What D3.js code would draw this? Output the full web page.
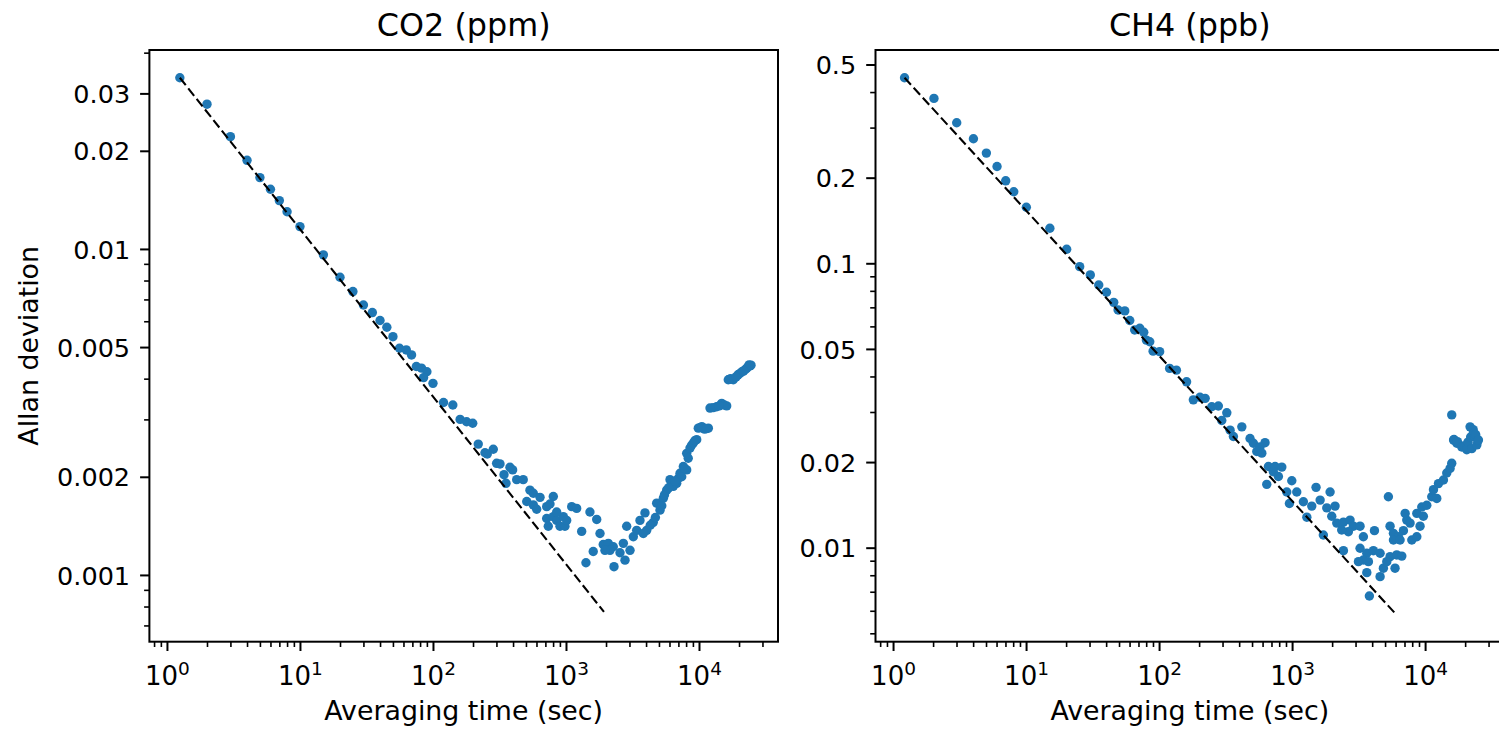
<!DOCTYPE html>
<html>
<head>
<meta charset="utf-8">
<script src="https://cdn.jsdelivr.net/npm/d3@7"></script>
<style>
body { margin: 0; background: #fff; }
svg { display: block; }
text { font-family: "DejaVu Sans", sans-serif; fill: #000; }
</style>
</head>
<body>
<svg id="chart" width="1499" height="729"></svg>
<script>
'use strict';

// CO2 Allan deviation (ppm) vs averaging time (s)
var co2Tau = [1.25, 2, 3, 4, 5, 6, 7, 8, 10, 15, 20, 25, 30, 35, 40, 45, 50, 56, 63, 69,
  75, 82, 90, 85, 100, 120, 141, 160, 179, 199, 219, 246, 284, 256, 301, 319, 379, 397, 342, 354,
  426, 477, 536, 568, 638, 507, 568, 602, 716, 803, 758, 716, 803, 851, 955, 901, 982, 736, 1012, 851,
  1104, 1203, 1312, 1514, 1702, 1802, 1413, 1603, 1906, 2080, 2268, 2142, 1963, 2296, 2547, 2699, 3030, 2778, 2860, 3208,
  3401, 3600, 3925, 4043, 4530, 3814, 4300, 4700, 4806, 5093, 5395, 5500, 5716, 6053, 6200, 6797, 6412, 7000, 7197, 7624,
  8080, 7413, 8080, 8556, 8800, 9064, 9610, 9880, 10200, 10770, 11000, 11750, 12100, 13580, 14820, 15500, 16150, 16600, 17300, 18110,
  19640, 20300, 21040, 22180, 22800, 23360, 23800, 24180,
  5250, 5900, 6600, 7800, 8300, 9300, 10500, 11400, 12800, 14200, 17000, 19000, 21600, 24600];
var co2Dev = [0.0335, 0.0278, 0.0221, 0.0187, 0.01655, 0.01524, 0.01407, 0.0130, 0.01171, 0.00959, 0.00819, 0.0074, 0.00673, 0.00638, 0.00603, 0.00575, 0.00538, 0.00496, 0.00490, 0.00473,
  0.00436, 0.00431, 0.00420, 0.00403, 0.00387, 0.00338, 0.00332, 0.00300, 0.00295, 0.00292, 0.00252, 0.00237, 0.00243, 0.00235, 0.00220, 0.00219, 0.00214, 0.00210, 0.00203, 0.00191,
  0.00196, 0.00196, 0.00182, 0.00178, 0.00173, 0.00168, 0.00164, 0.00159, 0.00162, 0.00174, 0.00165, 0.00149, 0.00151, 0.00147, 0.00151, 0.00141, 0.00141, 0.00141, 0.00147, 0.00156,
  0.00162, 0.00160, 0.00136, 0.00156, 0.00148, 0.00134, 0.00109, 0.00118, 0.00124, 0.00125, 0.00122, 0.00119, 0.00119, 0.00106, 0.00117, 0.00125, 0.00119, 0.00111, 0.00141, 0.00131,
  0.00137, 0.00147, 0.00155, 0.00137, 0.00145, 0.00134, 0.00142, 0.00150, 0.00166, 0.00158, 0.00172, 0.00176, 0.00182, 0.00196, 0.00190, 0.00191, 0.00187, 0.00198, 0.00205, 0.00215,
  0.00210, 0.00200, 0.00236, 0.00245, 0.00250, 0.00254, 0.00260, 0.00282, 0.00283, 0.00282, 0.00280, 0.00282, 0.00325, 0.00328, 0.00336, 0.00332, 0.00330, 0.00397, 0.00400, 0.00397,
  0.00411, 0.00415, 0.00420, 0.00426, 0.00430, 0.00435, 0.00441, 0.00438,
  0.00163, 0.00185, 0.00194, 0.00212, 0.00228, 0.00258, 0.00285, 0.00281, 0.00326, 0.00330, 0.00398, 0.00405, 0.00422, 0.00440];

// CH4 Allan deviation (ppb) vs averaging time (s)
var ch4Tau = [1.22, 2.03, 3.01, 4.02, 5.03, 6.05, 7.03, 8.08, 10.05, 15.1, 20.2, 25.3, 30.4, 35.2, 40.2, 45.6, 49.2, 55.2, 60.2, 65.6,
  71.6, 76.7, 80.3, 85.1, 90.2, 101, 120, 135, 161, 181, 203, 222, 249, 279, 323, 296, 342, 362, 419, 483,
  512, 574, 626, 543, 592, 664, 745, 837, 723, 789, 645, 995, 912, 1084, 955, 1216, 1406, 1291, 1514, 1931,
  1625, 1824, 2104, 1718, 1987, 2168, 2432, 2729, 2891, 3243, 2649, 2361, 3436, 2432, 3243, 3645, 4086, 4589, 3436, 3748,
  3154, 3645, 3811, 4589, 4857, 5453, 6124, 5944, 5152, 6680, 4161, 5297, 5453, 5781, 6300, 6870, 7282, 7711, 7079, 7943,
  8664, 9163, 5781, 6486, 8664, 9440, 9705, 10300, 11220, 12240, 11560, 12600, 13740, 14550, 15410, 15860, 15860, 16370, 16500, 17320,
  17500, 18870, 19500, 20570, 21000, 22000, 22440, 21790, 23000, 23070, 23770, 24000, 24500, 25180];
var ch4Dev = [0.449, 0.380, 0.312, 0.274, 0.244, 0.219, 0.195, 0.1785, 0.1574, 0.1328, 0.1120, 0.0973, 0.0910, 0.0839, 0.0791, 0.0729, 0.0685, 0.0680, 0.0629, 0.0583,
  0.0591, 0.0572, 0.0537, 0.0530, 0.0491, 0.0489, 0.0427, 0.0421, 0.0383, 0.0331, 0.0338, 0.0335, 0.0313, 0.0315, 0.0298, 0.0280, 0.0259, 0.0246, 0.0266, 0.0242,
  0.0233, 0.0226, 0.0234, 0.0218, 0.0215, 0.0193, 0.0193, 0.0192, 0.0185, 0.0178, 0.0167, 0.0172, 0.0157, 0.0157, 0.0143, 0.0145, 0.0140, 0.0128, 0.0163, 0.0157,
  0.0147, 0.0138, 0.0140, 0.01108, 0.0129, 0.0122, 0.0123, 0.0125, 0.0119, 0.0119, 0.01138, 0.01154, 0.01093, 0.00976, 0.00995, 0.00956, 0.00976, 0.00956, 0.00905, 0.00893,
  0.00893, 0.00817, 0.00676, 0.00791, 0.00847, 0.00930, 0.00943, 0.00847, 0.00893, 0.00934, 0.01148, 0.0151, 0.0119, 0.01123, 0.01093, 0.01148, 0.0125, 0.0122, 0.0132, 0.01064,
  0.01093, 0.0119, 0.01064, 0.01064, 0.0132, 0.0139, 0.0129, 0.0141, 0.0151, 0.0149, 0.0160, 0.0168, 0.0173, 0.0183, 0.0190, 0.0198, 0.0293, 0.0239, 0.0240, 0.0233,
  0.0236, 0.0226, 0.0228, 0.0221, 0.0235, 0.0245, 0.0223, 0.0266, 0.0260, 0.0252, 0.0244, 0.0250, 0.0230, 0.0239];

// tau^-1/2 reference lines
var co2FitTau = [1.25, 1930], co2FitDev = [0.0335, 0.00077];
var ch4FitTau = [1.22, 5944], ch4FitDev = [0.449, 0.00588];

var co2Ticks = [0.001, 0.002, 0.005, 0.01, 0.02, 0.03];
var ch4Ticks = [0.01, 0.02, 0.05, 0.1, 0.2, 0.5];
var xTicks = [1, 10, 100, 1000, 10000];
var xTickExp = ['0', '1', '2', '3', '4'];
var titles = ['CO2 (ppm)', 'CH4 (ppb)'];

var svg = d3.select('#chart');
var plotTop = 50, plotBottom = 641.7, plotW = 628.6;
var xDomain = [0.738, 39260];
var blue = '#1f77b4';

function minorTicks(domain, skip) {
	var out = [];
	var lo = Math.floor(Math.log10(domain[0])), hi = Math.ceil(Math.log10(domain[1]));
	for (var e = lo; e <= hi; e++) {
		for (var m = 1; m < 10; m++) {
			var v = m * Math.pow(10, e);
			if (v < domain[0] || v > domain[1]) continue;
			if (skip.some(function (t) { return Math.abs(t / v - 1) < 1e-6; })) continue;
			out.push(v);
		}
	}
	return out;
}

function cleanAxis(g) {
	g.attr('font-size', null).attr('font-family', null);
	g.select('.domain').remove();
	g.selectAll('line').attr('stroke', '#000');
}

function panel(left, yDomain, tau, dev, fitTau, fitDev, yTicks, title, withYLabel) {
	var x = d3.scaleLog().domain(xDomain).range([left, left + plotW]);
	var y = d3.scaleLog().domain(yDomain).range([plotBottom, plotTop]);
	var g = svg.append('g');

	// y axis
	g.append('g').attr('transform', 'translate(' + left + ',0)')
		.call(d3.axisLeft(y).tickValues(minorTicks(yDomain, yTicks)).tickSize(5.3).tickFormat(''))
		.call(cleanAxis)
		.selectAll('line').attr('stroke-width', 1.6);
	g.append('g').attr('transform', 'translate(' + left + ',0)')
		.call(d3.axisLeft(y).tickValues(yTicks).tickSize(9.3).tickPadding(10).tickFormat(function (d) { return String(d); }))
		.call(cleanAxis)
		.call(function (a) {
			a.selectAll('line').attr('stroke-width', 2);
			a.selectAll('text').attr('font-size', 25.5).attr('dy', '0.36em').attr('fill', '#000');
		});

	// x axis
	g.append('g').attr('transform', 'translate(0,' + plotBottom + ')')
		.call(d3.axisBottom(x).tickValues(minorTicks(xDomain, xTicks)).tickSize(5.3).tickFormat(''))
		.call(cleanAxis)
		.selectAll('line').attr('stroke-width', 1.6);
	var xa = g.append('g').attr('transform', 'translate(0,' + plotBottom + ')')
		.call(d3.axisBottom(x).tickValues(xTicks).tickSize(9.3).tickFormat(''))
		.call(cleanAxis);
	xa.selectAll('line').attr('stroke-width', 2);
	xa.selectAll('.tick text').remove();
	xa.selectAll('.tick').append('text')
		.attr('y', 43).attr('text-anchor', 'middle').attr('font-size', 26)
		.each(function (d, i) {
			var t = d3.select(this);
			t.append('tspan').text('10');
			t.append('tspan').attr('dy', -9.5).attr('font-size', 18.5).text(xTickExp[i]);
		});

	// points
	g.append('g').selectAll('circle')
		.data(tau.map(function (t, i) { return [t, dev[i]]; }))
		.join('circle')
		.attr('cx', function (d) { return x(d[0]); })
		.attr('cy', function (d) { return y(d[1]); })
		.attr('r', 4.7)
		.attr('fill', blue);

	// reference line
	g.append('path')
		.datum(fitTau.map(function (t, i) { return [t, fitDev[i]]; }))
		.attr('d', d3.line().x(function (d) { return x(d[0]); }).y(function (d) { return y(d[1]); }))
		.attr('fill', 'none').attr('stroke', '#000').attr('stroke-width', 2.1)
		.attr('stroke-dasharray', '9.5,4');

	// frame
	g.append('rect')
		.attr('x', left).attr('y', plotTop)
		.attr('width', plotW).attr('height', plotBottom - plotTop)
		.attr('fill', 'none').attr('stroke', '#000').attr('stroke-width', 2);

	var cx = left + plotW / 2;
	g.append('text').attr('x', cx).attr('y', 36).attr('text-anchor', 'middle')
		.attr('font-size', 31.8).text(title);
	g.append('text').attr('x', cx).attr('y', 720).attr('text-anchor', 'middle')
		.attr('font-size', 26.8).text('Averaging time (sec)');
	if (withYLabel) {
		g.append('text').attr('transform', 'translate(38,' + ((plotTop + plotBottom) / 2) + ') rotate(-90)')
			.attr('text-anchor', 'middle').attr('font-size', 26.8).text('Allan deviation');
	}
}

panel(149.4, [0.000624, 0.04076], co2Tau, co2Dev, co2FitTau, co2FitDev, co2Ticks, titles[0], true);
panel(875.5, [0.004671, 0.5623], ch4Tau, ch4Dev, ch4FitTau, ch4FitDev, ch4Ticks, titles[1], false);
</script>
</body>
</html>
